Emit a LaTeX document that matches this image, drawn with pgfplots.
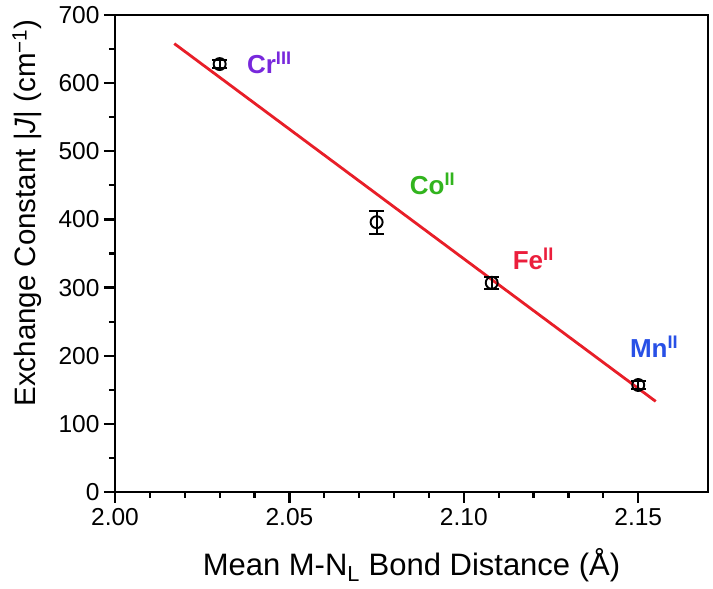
\documentclass[border=0pt]{standalone}
\usepackage{pgfplots}
\pgfplotsset{compat=1.18}
\usepackage{fontspec}
\setmainfont{Liberation Sans}
\definecolor{fitred}{RGB}{232,30,40}
\definecolor{crcol}{RGB}{120,40,220}
\definecolor{cocol}{RGB}{50,180,30}
\definecolor{fecol}{RGB}{235,30,60}
\definecolor{mncol}{RGB}{40,80,230}
\begin{document}
\begin{tikzpicture}
\path[use as bounding box] (-115pt,-97pt) rectangle (598pt,492pt);
\begin{axis}[
  scale only axis,
  width=593pt, height=477pt,
  at={(0,0)}, anchor=south west,
  xmin=2.00, xmax=2.17, ymin=0, ymax=700,
  xtick={2.00,2.05,2.10,2.15},
  ytick={0,100,...,700},
  minor x tick num=4,
  minor y tick num=1,
  tick align=outside,
  xtick pos=left, ytick pos=left,
  major tick length=11pt, minor tick length=6pt,
  axis line style={line width=2.6pt},
  every tick/.style={line width=2.2pt, black},
  /pgf/number format/assume math mode=true,
  xticklabel style={/pgf/number format/fixed, /pgf/number format/fixed zerofill, /pgf/number format/precision=2, yshift=-2pt},
  ticklabel style={font=\fontsize{24.5}{26}\selectfont},
  yticklabel style={xshift=-1pt},
  xlabel={Mean M-N\textsubscript{L} Bond Distance (Å)},
  ylabel={Exchange Constant |\textit{J}| (cm\textsuperscript{−1})},
  xlabel style={font=\fontsize{31}{33}\selectfont, at={(axis description cs:0.5,-0.153)}, anchor=center},
  ylabel style={font=\fontsize{29.5}{31}\selectfont, at={(axis description cs:-0.148,0.585)}, anchor=center},
  clip=false,
]
\addplot[fitred, line width=2.8pt] coordinates {(2.017,658) (2.155,133)};
\addplot[black, line width=1.9pt, only marks, mark=o, mark size=6pt,
  mark options={line width=1.9pt},
  error bars/.cd, y dir=both, y explicit,
  error bar style={line width=1.9pt},
  error mark options={rotate=90, mark size=7.5pt, line width=1.9pt}]
  coordinates {
  (2.030,628) +- (0,6)
  (2.075,396) +- (0,17)
  (2.108,307) +- (0,9)
  (2.150,157) +- (0,6)
};
\node[anchor=west, text=crcol, font=\bfseries\fontsize{26}{28}\selectfont, inner sep=0pt] at (axis cs:2.0378,630) {Cr\textsuperscript{III}};
\node[anchor=west, text=cocol, font=\bfseries\fontsize{26}{28}\selectfont, inner sep=0pt] at (axis cs:2.0845,452) {Co\textsuperscript{II}};
\node[anchor=west, text=fecol, font=\bfseries\fontsize{26}{28}\selectfont, inner sep=0pt] at (axis cs:2.114,342) {Fe\textsuperscript{II}};
\node[anchor=west, text=mncol, font=\bfseries\fontsize{26}{28}\selectfont, inner sep=0pt] at (axis cs:2.1476,213) {Mn\textsuperscript{II}};
\end{axis}
\end{tikzpicture}
\end{document}
